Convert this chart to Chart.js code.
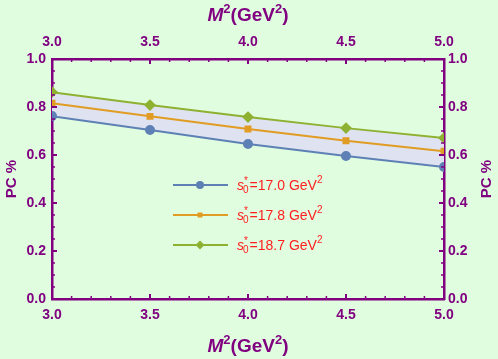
<!DOCTYPE html>
<html>
<head>
<meta charset="utf-8">
<script src="https://cdn.jsdelivr.net/npm/chart.js@4.4.1/dist/chart.umd.min.js"></script>
<style>
  html, body { margin: 0; padding: 0; background: #e0fde0; }
  #wrap { width: 498px; height: 359px; }
</style>
</head>
<body>
<div id="wrap"><canvas id="pc"></canvas></div>
<script>
// M^2 values (GeV^2)
var m2 = [3.0, 3.5, 4.0, 4.5, 5.0];
// PC % for each s0* value
var pc170 = [0.762, 0.704, 0.646, 0.596, 0.550];
var pc178 = [0.816, 0.761, 0.708, 0.659, 0.616];
var pc187 = [0.862, 0.808, 0.758, 0.712, 0.671];
var seriesNames = ["17.0", "17.8", "18.7"];
var xTicks = [3.0, 3.5, 4.0, 4.5, 5.0];
var yTicks = [0.0, 0.2, 0.4, 0.6, 0.8, 1.0];

var purple = "#800080";
var blue = "#5e81b5", orange = "#e19c24", green = "#8fb131";

function pts(ys) {
  return m2.map(function(x, i){ return {x: x, y: ys[i]}; });
}

var tickFont = {family: "Liberation Sans, Arial", size: 14, weight: "bold"};

function axis(pos, min, max, step, pad, size) {
  return {
    type: "linear", position: pos, min: min, max: max,
    ticks: {
      stepSize: step, color: purple, font: tickFont, padding: pad,
      callback: function(v){ return v.toFixed(1); }
    },
    grid: {drawOnChartArea: false, drawTicks: false},
    border: {display: true, color: purple, width: 2.5},
    afterFit: function(s){
      if (s.isHorizontal()) s.height = size; else s.width = size;
    }
  };
}

function richText(ctx, parts, x, y, align) {
  var w = 0;
  parts.forEach(function(p){ ctx.font = p.f; w += ctx.measureText(p.t).width; });
  var cx = align === "center" ? x - w / 2 : x;
  parts.forEach(function(p){
    ctx.font = p.f;
    ctx.fillText(p.t, cx, y + (p.dy || 0));
    cx += ctx.measureText(p.t).width;
  });
}

var decor = {
  id: "decor",
  beforeDraw: function(chart) {
    var ctx = chart.ctx;
    ctx.save();
    ctx.fillStyle = "#e0fde0";
    ctx.fillRect(0, 0, chart.width, chart.height);
    ctx.restore();
  },
  afterDraw: function(chart) {
    var ctx = chart.ctx, a = chart.chartArea;
    var sx = chart.scales.x, sy = chart.scales.y;
    ctx.save();
    ctx.strokeStyle = purple;
    // inward ticks, x
    for (var i = 0; i <= 20; i++) {
      var v = 3 + i * 0.1;
      var px = sx.getPixelForValue(v);
      var major = i % 5 === 0;
      var len = major ? 5 : 3;
      ctx.lineWidth = major ? 2 : 1.5;
      ctx.beginPath();
      ctx.moveTo(px, a.bottom); ctx.lineTo(px, a.bottom - len);
      ctx.moveTo(px, a.top); ctx.lineTo(px, a.top + len);
      ctx.stroke();
    }
    // inward ticks, y
    for (var j = 0; j <= 20; j++) {
      var py = sy.getPixelForValue(j * 0.05);
      var majorY = j % 4 === 0;
      var lenY = majorY ? 5 : 3;
      ctx.lineWidth = majorY ? 2 : 1.5;
      ctx.beginPath();
      ctx.moveTo(a.left, py); ctx.lineTo(a.left + lenY, py);
      ctx.moveTo(a.right, py); ctx.lineTo(a.right - lenY, py);
      ctx.stroke();
    }

    // axis titles
    ctx.fillStyle = purple;
    ctx.textBaseline = "alphabetic";
    var bi = "italic bold 19px Liberation Sans, Arial";
    var b = "bold 19px Liberation Sans, Arial";
    var bs = "bold 13px Liberation Sans, Arial";
    var title = [{t: "M", f: bi}, {t: "2", f: bs, dy: -8}, {t: "(GeV", f: b}, {t: "2", f: bs, dy: -8}, {t: ")", f: b}];
    var cxm = (a.left + a.right) / 2;
    richText(ctx, title, cxm, 21, "center");
    richText(ctx, title, cxm, 352, "center");

    var cym = (a.top + a.bottom) / 2;
    ctx.font = "bold 15px Liberation Sans, Arial";
    ctx.textAlign = "center";
    ctx.textBaseline = "middle";
    [12, 487].forEach(function(xx){
      ctx.save();
      ctx.translate(xx, cym);
      ctx.rotate(-Math.PI / 2);
      ctx.fillText("PC %", 0, 0);
      ctx.restore();
    });

    // legend
    ctx.textAlign = "left";
    ctx.textBaseline = "alphabetic";
    var cols = [blue, orange, green];
    var shapes = ["circle", "rect", "rectRot"];
    var rad = [4, 3.5, 4.5];
    var rows = [185, 215, 245];
    var tf = "14px Liberation Sans, Arial";
    var ti = "italic 14px Liberation Sans, Arial";
    var ts = "10px Liberation Sans, Arial";
    for (var k = 0; k < 3; k++) {
      var ry = rows[k];
      ctx.strokeStyle = cols[k];
      ctx.lineWidth = 2;
      ctx.beginPath();
      ctx.moveTo(173, ry); ctx.lineTo(228, ry);
      ctx.stroke();
      ctx.fillStyle = cols[k];
      Chart.helpers.drawPoint(ctx, {pointStyle: shapes[k], radius: rad[k], borderWidth: 0}, 200, ry);
      ctx.fillStyle = "#ff1f1f";
      var x0 = 237, by = ry + 5;
      ctx.font = ti; ctx.fillText("s", x0, by);
      var sw = ctx.measureText("s").width;
      ctx.font = ts;
      ctx.fillText("*", x0 + sw, by - 6);
      ctx.fillText("0", x0 + sw - 1, by + 3);
      var zw = ctx.measureText("0").width;
      richText(ctx, [{t: "=" + seriesNames[k] + " GeV", f: tf}, {t: "2", f: ts, dy: -7}], x0 + sw + zw, by, "left");
    }
    ctx.restore();
  }
};

new Chart(document.getElementById("pc"), {
  type: "line",
  data: {
    datasets: [
      {data: pts(pc170), borderColor: blue, backgroundColor: blue, pointStyle: "circle", pointRadius: 4, borderWidth: 2, clip: 0},
      {data: pts(pc178), borderColor: orange, backgroundColor: orange, pointStyle: "rect", pointRadius: 3.5, borderWidth: 2, clip: 0},
      {data: pts(pc187), borderColor: green, backgroundColor: "#dfe2f0", pointBackgroundColor: green, pointBorderColor: green,
       pointStyle: "rectRot", pointRadius: 4.5, borderWidth: 2, fill: 0, clip: 0}
    ]
  },
  options: {
    responsive: true,
    maintainAspectRatio: false,
    animation: false,
    layout: {padding: 0},
    plugins: {legend: {display: false}, tooltip: {enabled: false}, filler: {drawTime: "beforeDatasetsDraw"}},
    elements: {point: {borderWidth: 0}, line: {tension: 0}},
    scales: {
      x: axis("bottom", 3, 5, 0.5, 8, 60),
      x2: axis("top", 3, 5, 0.5, 8, 59),
      y: axis("left", 0, 1, 0.2, 6, 52),
      y2: axis("right", 0, 1, 0.2, 4, 54)
    }
  },
  plugins: [decor]
});
</script>
</body>
</html>
